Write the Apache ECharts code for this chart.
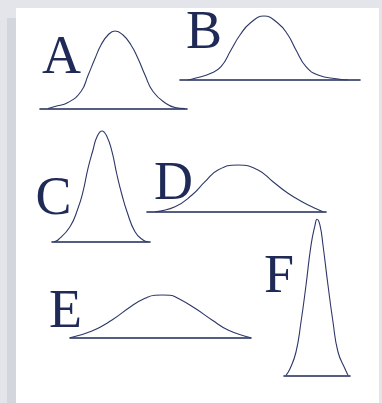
<!DOCTYPE html>
<html>
<head>
<meta charset="utf-8">
<script src="https://cdn.jsdelivr.net/npm/echarts@6/dist/echarts.min.js"></script>
<style>
  html, body { margin: 0; padding: 0; background: #e4e5ea; }
  #chart { width: 382px; height: 403px; }
</style>
</head>
<body>
<div id="chart"></div>
<script>
// curve labels
const letters = ['A', 'B', 'C', 'D', 'E', 'F'];

// curve shapes: [distance along baseline, height above baseline]
const curveA = [[8, 0], [15, 2], [28, 6], [41, 17], [48, 33], [55, 50], [61, 63.5], [68, 73.5], [75, 77.5],
  [83, 73.5], [91, 63.5], [98, 50], [105, 33.5], [113, 17], [126, 5], [135, 1], [145, 0]];
const curveB = [[8, 0], [15, 1.7], [31, 6.7], [41, 13.3], [51, 30], [60, 45], [70, 56.7], [84, 64],
  [98, 56.7], [108, 45], [116, 30], [126, 13.3], [138, 5], [158, 1], [168, 0]];
const curveC = [[2, 0], [6, 1.7], [18, 15], [26, 33.4], [31, 50], [36, 73.4], [41, 91.7], [45, 105], [50, 110.7],
  [55, 105], [60, 90], [65, 66.7], [70, 46.7], [75, 30], [83, 10], [91, 1.7], [96, 0]];
const curveD = [[8, 0], [28, 5], [45, 16.7], [58, 30], [71, 41.7], [91, 46.7], [111, 41.7], [126, 30],
  [141, 18.4], [155, 10], [168, 3.4], [176, 0]];
const curveE = [[0, 0], [22, 6.7], [42, 17.7], [62, 32], [75, 39.4], [85, 42.5], [92, 42.7], [100, 42.5],
  [108, 39.4], [125, 29.4], [142, 17.7], [158, 7.7], [177, 1], [181, 0]];
const curveF = [[2, 0], [6, 6.6], [12, 23.3], [17, 53.3], [22, 90], [27, 130], [31, 150], [33, 156],
  [36, 150], [39, 130], [44, 90], [49, 53.3], [54, 23.3], [61, 6.6], [64, 0]];

const curves = [curveA, curveB, curveC, curveD, curveE, curveF];

// panel boxes (left, top, width, height) and label positions
const boxes = [
  [40, 28.5, 147, 80],
  [180, 12, 180, 68],
  [52, 126.7, 98, 115],
  [147, 161.7, 179, 50],
  [70, 289.7, 181, 48],
  [284, 215.3, 66, 160]
];
const labelPos = [[42, 32], [186, 7], [35.5, 173], [154, 158], [49, 286], [264, 251]];

const ink = '#1f2a56';
const chart = echarts.init(document.getElementById('chart'));

const option = {
  backgroundColor: '#e4e5ea',
  animation: false,
  graphic: [
    { type: 'rect', z: -10, shape: { x: 7, y: 18, width: 9, height: 385 }, style: { fill: '#d4d6dd' } },
    { type: 'rect', z: -10, shape: { x: 16, y: 8, width: 363, height: 395 }, style: { fill: '#ffffff' } }
  ],
  title: letters.map((t, i) => ({
    text: t,
    left: labelPos[i][0],
    top: labelPos[i][1],
    padding: 0,
    textStyle: { fontFamily: 'Liberation Serif', fontSize: 54, fontWeight: 'normal', color: ink }
  })),
  grid: boxes.map(b => ({ left: b[0], top: b[1], width: b[2], height: b[3] })),
  xAxis: boxes.map((b, i) => ({
    type: 'value',
    gridIndex: i,
    min: 0,
    max: b[2],
    axisLine: { show: true, onZero: false, lineStyle: { color: ink, width: 1.6 } },
    axisTick: { show: false },
    axisLabel: { show: false },
    splitLine: { show: false }
  })),
  yAxis: boxes.map((b, i) => ({
    type: 'value',
    gridIndex: i,
    min: 0,
    max: b[3],
    show: false
  })),
  series: curves.map((d, i) => ({
    type: 'line',
    xAxisIndex: i,
    yAxisIndex: i,
    data: d,
    smooth: 0.5,
    showSymbol: false,
    lineStyle: { color: '#2d3868', width: 1.1 }
  }))
};

chart.setOption(option);
</script>
</body>
</html>
